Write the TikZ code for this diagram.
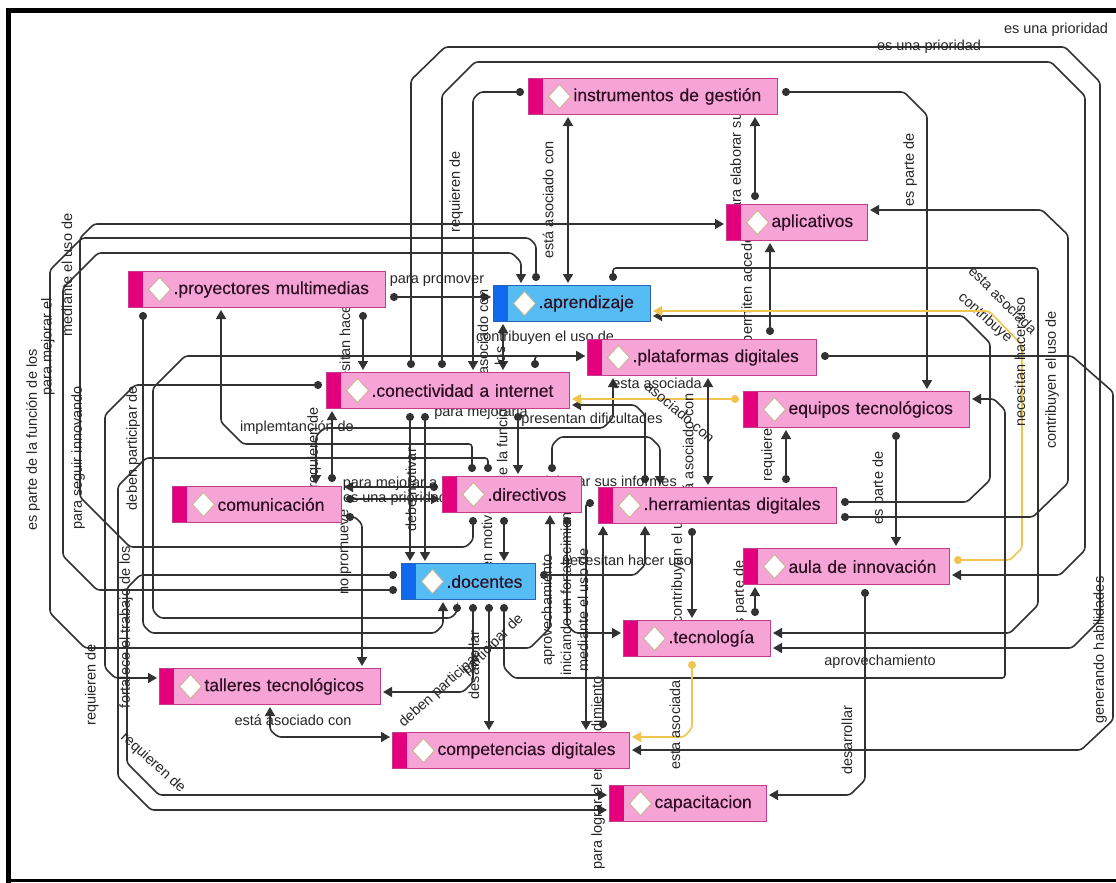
\documentclass[tikz,border=0pt]{standalone}
\usepackage{fontspec}
\setmainfont{Liberation Sans}
\newfontfamily\conceptfamily[FakeBold=0.3]{Liberation Sans}
\usetikzlibrary{arrows.meta,positioning,calc}
\pgfdeclarelayer{back}
\pgfsetlayers{back,main}

\definecolor{conceptfill}{RGB}{246,163,214}
\definecolor{conceptbar}{RGB}{228,0,124}
\definecolor{conceptline}{RGB}{196,60,140}
\definecolor{keyfill}{RGB}{86,189,244}
\definecolor{keybar}{RGB}{16,104,236}
\definecolor{keyline}{RGB}{40,100,180}
\definecolor{nodetext}{RGB}{45,15,35}
\definecolor{linkgray}{RGB}{50,50,50}
\definecolor{yellowlink}{RGB}{240,196,80}
\definecolor{diamondline}{RGB}{196,178,140}

\tikzset{
  bar color/.initial=conceptbar,
  concept/.style={draw=conceptline, fill=conceptfill, line width=1pt,
    anchor=north west, minimum height=36pt, inner xsep=0pt, inner ysep=0pt,
    text width=#1, align=left, text=nodetext,
    font=\conceptfamily\fontsize{17.5}{20}\selectfont,
    path picture={
      \fill[\pgfkeysvalueof{/tikz/bar color}] (path picture bounding box.south west)
        rectangle ([xshift=14pt]path picture bounding box.north west);
      \draw[diamondline, fill=white, line width=0.8pt]
        ([xshift=20pt]path picture bounding box.west)
        -- ([xshift=31pt,yshift=12pt]path picture bounding box.west)
        -- ([xshift=42pt]path picture bounding box.west)
        -- ([xshift=31pt,yshift=-12pt]path picture bounding box.west) -- cycle;}},
  keyconcept/.style={concept=#1, draw=keyline, fill=keyfill, bar color=keybar},
  link/.style={draw=linkgray, line width=1.6pt, rounded corners=3pt},
  dotarr/.style={link, {Circle[length=8pt]}-{Triangle[length=9pt,width=10pt]},
    shorten <=4pt, shorten >=2pt},
  arrarr/.style={link, {Triangle[length=9pt,width=10pt]}-{Triangle[length=9pt,width=10pt]},
    shorten <=2pt, shorten >=2pt},
  yellink/.style={dotarr, draw=yellowlink},
  linklabel/.style={inner sep=0pt, text=black!85, font=\fontsize{14.5}{16}\selectfont},
  vlabel/.style={linklabel, rotate=90}
}

\begin{document}
\begin{tikzpicture}[x=1pt,y=-1pt]
\useasboundingbox (0,0) rectangle (1116,883);
\draw[line width=5pt] (8.5,883) -- (8.5,10.5) -- (1116,10.5);
\draw[line width=3pt] (7,880.5) -- (1116,880.5);

% concepts
\node[concept=249] (instr) at (528,78) {\hspace*{45pt}instrumentos de gestión};
\node[concept=141] (aplic) at (726,204) {\hspace*{45pt}aplicativos};
\node[concept=257] (proy) at (128,271) {\hspace*{45pt}.proyectores multimedias};
\node[keyconcept=157] (aprend) at (493,285) {\hspace*{45pt}.aprendizaje};
\node[concept=229] (plat) at (587,339) {\hspace*{45pt}.plataformas digitales};
\node[concept=243] (conect) at (326,372) {\hspace*{45pt}.conectividad a internet};
\node[concept=226] (equipos) at (743,391) {\hspace*{45pt}equipos tecnológicos};
\node[concept=169] (comunic) at (172,486) {\hspace*{45pt}comunicación};
\node[concept=139] (dir) at (442,476) {\hspace*{45pt}.directivos};
\node[concept=238] (herram) at (598,487) {\hspace*{45pt}.herramientas digitales};
\node[concept=206] (aula) at (743,548) {\hspace*{45pt}aula de innovación};
\node[keyconcept=134] (docentes) at (401,563) {\hspace*{45pt}.docentes};
\node[concept=147] (tecno) at (623,620) {\hspace*{45pt}.tecnología};
\node[concept=221] (talleres) at (159,668) {\hspace*{45pt}talleres tecnológicos};
\node[concept=237] (compet) at (392,732) {\hspace*{45pt}competencias digitales};
\node[concept=157] (capac) at (609,785) {\hspace*{45pt}capacitacion};

\begin{pgfonlayer}{back}
% long loops over the top
\draw[dotarr] (411,0 |- conect.north) -- (411,80) -- (445,47) -- (1065,47) -- (1100,82) -- (1100,620) -- (1072,648) -- (tecno.east |- 0,648);
\draw[dotarr] (442,0 |- conect.north) -- (442,95) -- (475,62) -- (1051,62) -- (1085,96) -- (1085,550) -- (1060,575) -- (aula.east |- 0,575);
\node[linklabel] at (1056,30) {es una prioridad};
\node[linklabel] at (929,47) {es una prioridad};

% instrumentos de gestion
\draw[dotarr] (instr.west |- 0,92) -- (480,92) -- (473,99) -- (473,0 |- conect.north);
\node[vlabel] at (456,192) {requieren de};
\draw[dotarr] (instr.east |- 0,92) -- (904,92) -- (927,115) -- (927,0 |- equipos.north);
\node[vlabel] at (910,170) {es parte de};
\draw[arrarr] (568,0 |- aprend.north) -- (568,0 |- instr.south);
\node[vlabel] at (548,200) {está asociado con};
\draw[dotarr] (755,0 |- aplic.north) -- (755,0 |- instr.south);
\node[vlabel] at (737,162) {para elaborar sus};
\draw[dotarr] (770,0 |- plat.north) -- (770,0 |- aplic.south);
\node[vlabel] at (748,287) {permiten acceder};

% proyectores, aprendizaje, conectividad
\draw[dotarr] (proy.east |- 0,297) -- (aprend.west |- 0,297);
\node[linklabel] at (437,281) {para promover};
\draw[dotarr] (363,0 |- proy.south) -- (363,0 |- conect.north);
\node[vlabel] at (345,338) {necesitan hacer uso};
\draw[arrarr] (503,0 |- aprend.south) -- (503,0 |- conect.north);
\node[vlabel] at (483,332) {asociado con};
\node[vlabel] at (500,356) {los};
\draw[dotarr] (535,0 |- conect.north) -- (535,356) -- (plat.west |- 0,356);
\draw[dotarr] (457,0 |- docentes.south) -- (457,612) -- (451,618) -- (160,618) -- (153,611) -- (153,388) -- (185,356) -- (plat.west |- 0,356);
\node[linklabel] at (545,338) {contribuyen el uso de};

% left side
\draw[dotarr] (docentes.west |- 0,590) -- (97,590) -- (63,556) -- (63,288) -- (98,253) -- (512,253) -- (521,262) -- (521,0 |- aprend.north);
\node[vlabel] at (67,275) {mediante el uso de};
\draw[dotarr] (473,0 |- dir.south) -- (473,540) -- (466,547) -- (130,547) -- (80,497) -- (80,238) -- (94,224) -- (aplic.west |- 0,224);
\node[vlabel] at (78,458) {para seguir innovando};
\draw[dotarr] (536,0 |- aprend.north) -- (536,245) -- (529,238) -- (82,238) -- (50,270) -- (50,613) -- (85,648) -- (530,648) -- (550,628) -- (550,0 |- dir.south);
\node[vlabel] at (48,347) {para mejorar el};
\node[vlabel] at (33,440) {es parte de la función de los};
\node[vlabel] at (548,610) {aprovechamiento};
\draw[dotarr] (conect.west |- 0,385) -- (135,385) -- (105,415) -- (105,668) -- (115,678) -- (talleres.west |- 0,678);
\node[vlabel] at (92,685) {requieren de};
\draw[dotarr] (488,0 |- dir.north) -- (488,458) -- (146,458) -- (118,486) -- (118,777) -- (151,810) -- (capac.west |- 0,810);
\node[vlabel] at (126,627) {fortalece el trabajo de los};
\draw[dotarr] (472,0 |- dir.north) -- (472,444) -- (243,444) -- (221,422) -- (221,0 |- proy.south);
\node[linklabel] at (297,428) {implemtanción de};
\draw[dotarr] (docentes.west |- 0,575) -- (140,575) -- (127,588) -- (127,763) -- (159,795) -- (capac.west |- 0,795);
\node[linklabel, rotate=-42] at (153,763) {requieren de};
\draw[dotarr] (143,0 |- proy.south) -- (143,625) -- (151,633) -- (435,633) -- (443,625) -- (443,0 |- docentes.south);
\node[vlabel] at (133,448) {deben participar de};

% comunicacion
\draw[dotarr] (comunic.east |- 0,517) -- (355,517) -- (362,524) -- (362,0 |- talleres.north);
\node[vlabel] at (346,552) {no promueve};
\draw[dotarr] (332,0 |- comunic.north) -- (332,0 |- conect.south);
\node[vlabel] at (314,448) {requieren de};
\draw[arrarr] (316,0 |- comunic.north) -- (316,436) -- (324,428) -- (603,428) -- (613,418) -- (613,0 |- plat.south);
\draw[dotarr] (dir.west |- 0,487) -- (comunic.east |- 0,487);
\node[linklabel] at (390,484) {para mejorar a};
\draw[dotarr] (comunic.east |- 0,499) -- (dir.west |- 0,499);
\node[linklabel] at (395,499) {es una prioridad};

% conectividad, directivos, docentes
\draw[dotarr] (410,0 |- conect.south) -- (410,0 |- docentes.north);
\node[vlabel] at (411,490) {debe motivar};
\draw[dotarr] (425,0 |- conect.south) -- (425,0 |- docentes.north);
\node[linklabel] at (481,413) {para mejorarla};
\draw[dotarr] (518,0 |- conect.south) -- (518,0 |- dir.north);
\node[vlabel] at (502,442) {de la función};
\draw[dotarr] (504,0 |- dir.south) -- (504,0 |- docentes.north);
\node[vlabel] at (487,548) {deben motivar};
\draw[dotarr] (552,0 |- dir.north) -- (552,445) -- (560,437) -- (650,437) -- (660,447) -- (660,0 |- herram.north);
\node[linklabel] at (592,420) {presentan dificultades};
\draw[dotarr] (567,0 |- dir.south) -- (567,625) -- (575,633) -- (tecno.west |- 0,633);
\node[vlabel] at (566,588) {iniciando un fortalecimiento};

% herramientas digitales
\draw[dotarr] (645,0 |- herram.north) -- (645,415) -- (635,405) -- (conect.east |- 0,405);
\draw[yellink] (equipos.west |- 0,399) -- (conect.east |- 0,399);
\node[linklabel] at (657,383) {esta asociada};
\draw[arrarr] (708,0 |- plat.south) -- (708,0 |- herram.north);
\node[linklabel, rotate=-40] at (680,412) {asociado con};
\node[vlabel] at (688,452) {está asociado con};
\draw[dotarr] (786,0 |- herram.north) -- (786,0 |- equipos.south);
\node[vlabel] at (768,455) {requiere};
\draw[dotarr] (896,0 |- equipos.south) -- (896,0 |- aula.north);
\node[vlabel] at (879,488) {es parte de};
\draw[dotarr] (herram.west |- 0,503) -- (586,503) -- (586,0 |- compet.north);
\node[vlabel] at (583,610) {mediante el uso de};
\node[linklabel, anchor=east] at (677,483) {para elaborar sus informes};
\draw[dotarr] (603,0 |- compet.north) -- (603,0 |- herram.south);
\node[vlabel] at (598,773) {para lograr el emprendimiento};
\draw[dotarr] (docentes.east |- 0,575) -- (635,575) -- (645,565) -- (645,0 |- herram.south);
\node[linklabel] at (627,560) {necesitan hacer uso};
\draw[dotarr] (692,0 |- herram.south) -- (692,0 |- tecno.north);
\node[vlabel] at (678,565) {contribuyen el uso};

% right side
\draw[dotarr] (herram.east |- 0,502) -- (967,502) -- (990,480) -- (990,343) -- (963,316) -- (aprend.east |- 0,316);
\node[linklabel, rotate=-42] at (985,318) {contribuye};
\draw[yellink] (aula.east |- 0,560) -- (1010,560) -- (1022,548) -- (1022,345) -- (989,311) -- (aprend.east |- 0,311);
\node[linklabel, rotate=-45] at (1003,300) {esta asociada};
\node[vlabel] at (1020,362) {necesitan hacer uso};
\draw[dotarr] (herram.east |- 0,517) -- (1033,517) -- (1068,483) -- (1068,235) -- (1042,210) -- (aplic.east |- 0,210);
\node[vlabel] at (1052,380) {contribuyen el uso de};
\draw[dotarr] (613,0 |- aprend.north) -- (613,268) -- (1038,268) -- (1038,605) -- (1010,633) -- (tecno.east |- 0,633);
\draw[dotarr] (plat.east |- 0,356) -- (1072,356) -- (1113,392) -- (1113,720) -- (1081,750) -- (compet.east |- 0,750);
\node[vlabel] at (1100,650) {generando habilidades};

% docentes below
\draw[dotarr] (504,0 |- docentes.south) -- (504,668) -- (514,678) -- (1005,678) -- (1005,410) -- (994,399) -- (equipos.east |- 0,399);
\node[linklabel] at (880,662) {aprovechamiento};
\draw[dotarr] (473,0 |- docentes.south) -- (473,682) -- (463,692) -- (talleres.east |- 0,692);
\node[linklabel, rotate=42] at (440,690) {deben participar};
\draw[dotarr] (489,0 |- docentes.south) -- (489,0 |- compet.north);
\node[vlabel] at (474,665) {desarrollar};
\node[linklabel, rotate=45] at (493,645) {participar de};

% tecnologia, aula, capacitacion
\draw[dotarr] (755,0 |- tecno.north) -- (755,0 |- aula.south);
\node[vlabel] at (740,597) {es parte de};
\draw[yellink] (692,0 |- tecno.south) -- (692,728) -- (684,737) -- (compet.east |- 0,737);
\node[vlabel] at (675,725) {esta asociada};
\draw[dotarr] (865,0 |- aula.south) -- (865,780) -- (850,795) -- (capac.east |- 0,795);
\node[vlabel] at (847,740) {desarrollar};
\draw[arrarr] (270,0 |- talleres.south) -- (270,730) -- (278,737) -- (compet.west |- 0,737);
\node[linklabel] at (293,720) {está asociado con};
\end{pgfonlayer}
\end{tikzpicture}
\end{document}
